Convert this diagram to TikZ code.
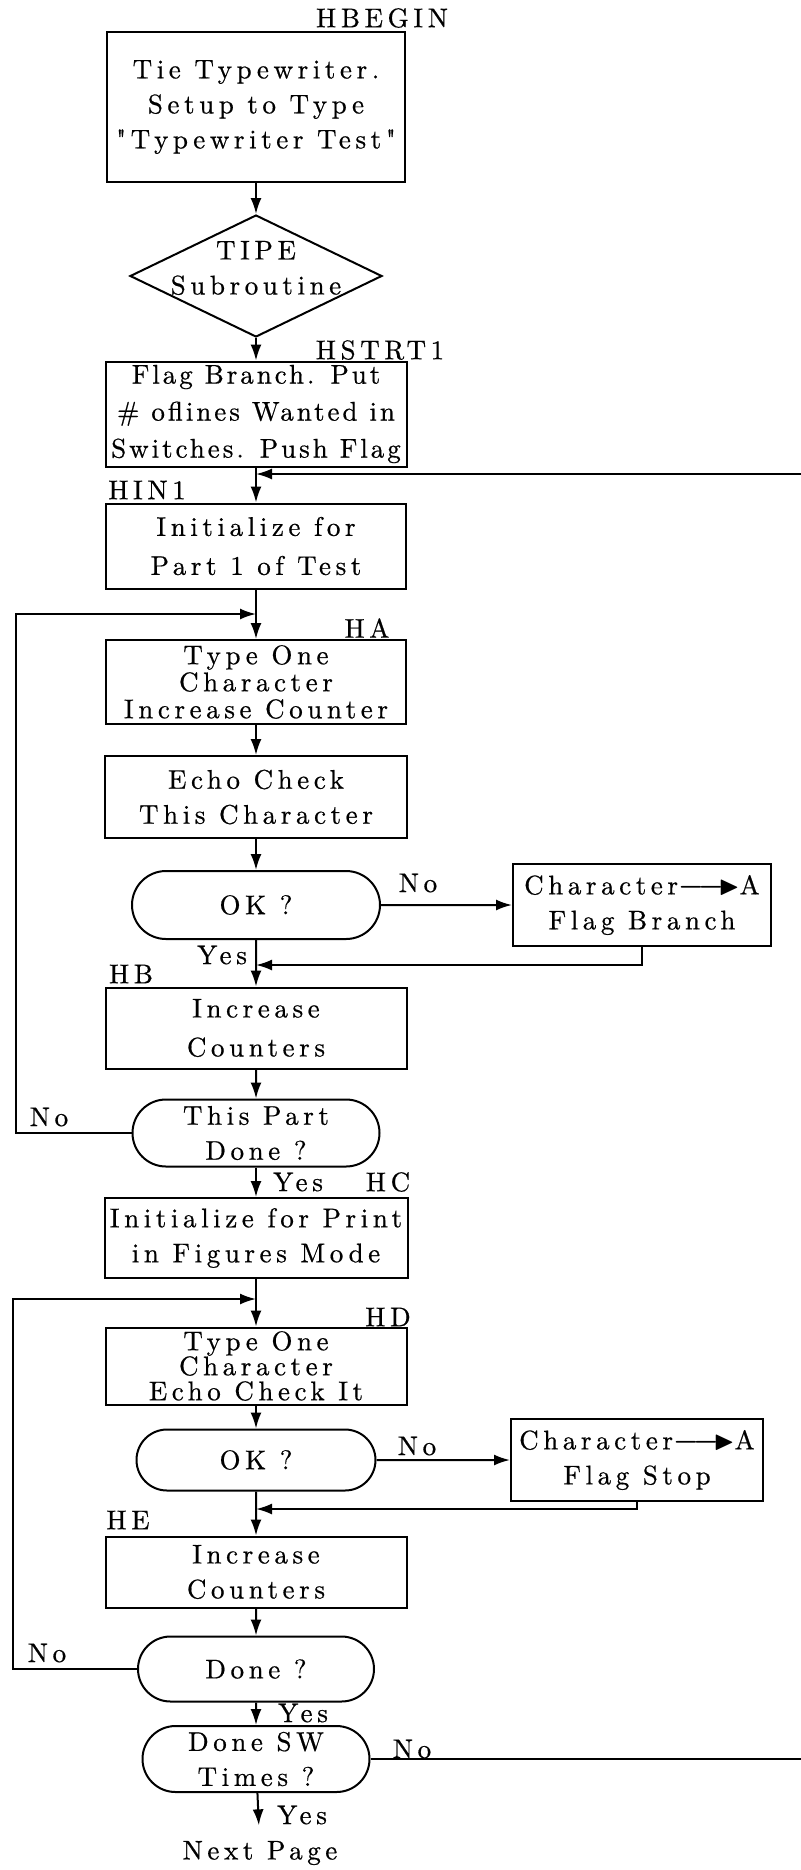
\documentclass[tikz,border=0pt]{standalone}
\usepackage{amssymb}
\usepackage{fontspec}
\newfontfamily\chartfont{lmroman10-regular.otf}[LetterSpace=17,FakeBold=0.6]
\newfontfamily\chartnarrow{lmroman10-regular.otf}[LetterSpace=11,FakeBold=0.6]
\usetikzlibrary{positioning, arrows.meta, shapes.geometric, shapes.misc}

\begin{document}
\begin{tikzpicture}[x=0.5pt,y=-0.5pt,line width=1pt,>={Latex[length=8pt,width=5.5pt]},
  every node/.style={font=\chartfont\fontsize{13.5}{17.5}\selectfont},
  box/.style={draw,rectangle,align=center,inner sep=1pt},
  pill/.style={draw,rounded rectangle,align=center,inner sep=1pt},
  tight/.style={font=\chartfont\fontsize{13.5}{13.5}\selectfont},
  tag/.style={inner sep=0pt}]
\useasboundingbox (0,0) rectangle (801,1870);

% main column
\node[box, minimum width=149pt, minimum height=75pt] (tie) at (256,107) {Tie Typewriter.\\Setup to Type\\"Typewriter Test"};
\node[draw, diamond, aspect=2, minimum width=126pt, minimum height=61pt, inner sep=0pt] (tipe) at (256,276) {};
\node[align=center, inner sep=0pt] (tipetext) at (256,268) {TIPE\\Subroutine};
\node[box, inner sep=0pt, minimum width=150.5pt, minimum height=52.5pt, font=\chartnarrow\fontsize{13.5}{18.5}\selectfont] (flag) at (256,414) {Flag Branch. Put\\\# oflines Wanted in\\Switches. Push Flag};
\node[box, minimum width=150pt, minimum height=42.5pt] (init) at (256,546) {Initialize for\\[2pt]Part 1 of Test};
\node[box, tight, minimum width=150pt, minimum height=42pt] (typeone) at (256,682) {Type One\\Character\\Increase Counter};
\node[box, minimum width=151pt, minimum height=41pt] (echo) at (256,797) {Echo Check\\This Character};
\node[pill, minimum width=126pt, minimum height=34pt] (ok1) at (256,905) {OK ?};
\node[box, minimum width=129pt, minimum height=41pt] (charA) at (642,905) {Character{\boldmath$\relbar\joinrel\relbar\joinrel\blacktriangleright$}A\\Flag Branch};
\node[box, minimum width=150.5pt, minimum height=40.5pt] (incr1) at (256,1028) {Increase\\[2pt]Counters};
\node[pill, minimum width=125.5pt, minimum height=33.5pt] (part) at (256,1133) {This Part\\Done ?};
\node[box, minimum width=151.5pt, minimum height=40pt] (print) at (256,1238) {Initialize for Print\\in Figures Mode};
\node[box, minimum width=150.5pt, minimum height=38.5pt, font=\chartfont\fontsize{13.5}{12.5}\selectfont] (typeone2) at (256,1366) {Type One\\Character\\Echo Check It};
\node[pill, minimum width=121.5pt, minimum height=30.5pt] (ok2) at (256,1460) {OK ?};
\node[box, minimum width=126pt, minimum height=41pt] (charA2) at (637,1460) {Character{\boldmath$\relbar\joinrel\relbar\joinrel\blacktriangleright$}A\\Flag Stop};
\node[box, minimum width=150.5pt, minimum height=35.5pt] (incr2) at (256,1572) {Increase\\Counters};
\node[pill, minimum width=120pt, minimum height=32.5pt] (done) at (256,1669) {Done ?};
\node[pill, minimum width=115.5pt, minimum height=33pt] (sw) at (256,1759) {Done SW\\Times ?};
\node (next) at (260,1853) {Next Page};

% entry names and branch words
\node[tag] (hbegin) at (382,18) {HBEGIN};
\node[tag] (hstrt) at (380,350) {HSTRT1};
\node[tag] (hin) at (147,490) {HIN1};
\node[tag] (ha) at (367,628) {HA};
\node[tag] (hb) at (131,974) {HB};
\node[tag] (hc) at (388,1182) {HC};
\node[tag] (hd) at (388,1317) {HD};
\node[tag] (he) at (128,1520) {HE};
\node[tag] (no1) at (418,883) {No};
\node[tag] (yes1) at (222,955) {Yes};
\node[tag] (no2) at (49,1117) {No};
\node[tag] (yes2) at (298,1182) {Yes};
\node[tag] (no3) at (417,1446) {No};
\node[tag] (no4) at (47,1653) {No};
\node[tag] (yes3) at (303,1713) {Yes};
\node[tag] (no5) at (412,1749) {No};
\node[tag] (yes4) at (302,1815) {Yes};

% joins
\coordinate (loopT) at (256,474);
\coordinate (edgeT) at (806,474);
\coordinate (loopA) at (256,614);
\coordinate (edgeA) at (16,614);
\coordinate (backA) at (256,965);
\coordinate (loopB) at (256,1299);
\coordinate (edgeB) at (13,1299);
\coordinate (backB) at (256,1509);

\draw[->] (tie) -- (tipe);
\draw[->] (tipe) -- (flag);
\draw[->] (flag) -- (init);
\draw[->] (init) -- (typeone);
\draw[->] (typeone) -- (echo);
\draw[->] (echo) -- (ok1);
\draw[->] (ok1) -- (charA);
\draw[->] (ok1) -- (incr1);
\draw[->] (charA.south) |- (backA);
\draw[->] (incr1) -- (part);
\draw[->] (part.west) -| (edgeA) -- (loopA);
\draw[->] (part) -- (print);
\draw[->] (print) -- (typeone2);
\draw[->] (typeone2) -- (ok2);
\draw[->] (ok2) -- (charA2);
\draw[->] (ok2) -- (incr2);
\draw[->] (charA2.south) |- (backB);
\draw[->] (incr2) -- (done);
\draw[->] (done.west) -| (edgeB) -- (loopB);
\draw[->] (done) -- (sw);
\draw[->] (sw.east) -| (edgeT) -- (loopT);
\draw[->,shorten >=4pt] (sw) -- (next);
\end{tikzpicture}
\end{document}
